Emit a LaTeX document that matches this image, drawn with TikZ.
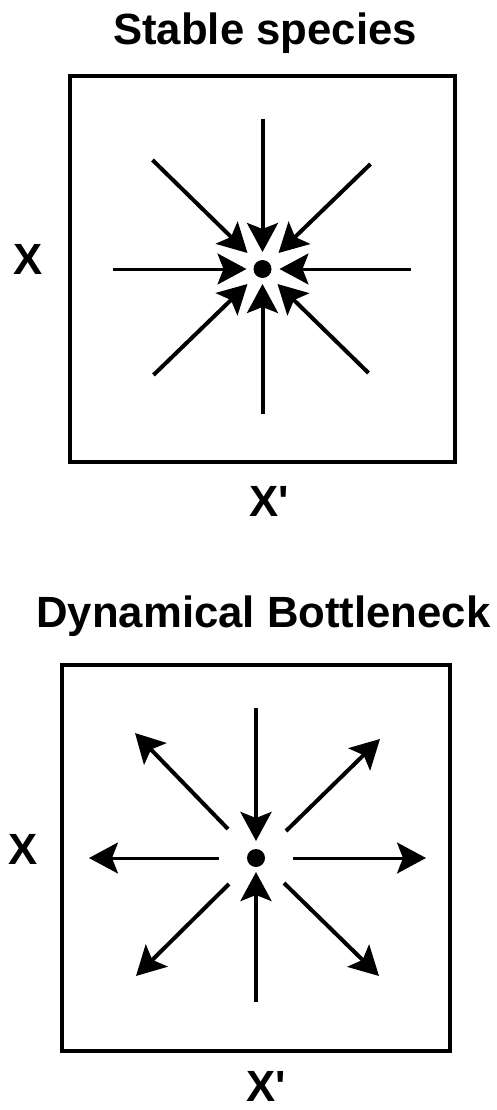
\documentclass[tikz,border=0pt]{standalone}
\usepackage{fontspec}
\setmainfont{Liberation Sans}[Ligatures=TeXOff]
\usetikzlibrary{arrows.meta}
\begin{document}
\begin{tikzpicture}[x=1pt,y=-1pt,
  lbl/.style={font=\fontsize{43.7}{50}\selectfont\bfseries, inner sep=0pt},
  frame/.style={draw, line width=4pt, inner sep=0pt},
  flow/.style={line width=4pt, -{Stealth[length=29pt,width=31pt,inset=6pt]}},
  thinflow/.style={flow, line width=3pt},
  dotst/.style={circle, fill=black, minimum size=18pt, inner sep=0pt}]
\useasboundingbox (0,0) rectangle (497,1110);

% ---------- top panel ----------
\node[lbl, anchor=base] (t1) at (265,45) {Stable species};
\node[frame, minimum width=385pt, minimum height=386pt] (box1) at (262.5,269) {};
\node[lbl, anchor=base west] (xa) at (13,274) {X};
\node[lbl, anchor=base west] (xb) at (249,516) {X'};
\node[dotst] (c1) at (262.5,269) {};
\begin{scope}[shift={(262.5,269)}]
  \coordinate (a1) at (0,-150);   \coordinate (b1) at (0,-17);
  \coordinate (a2) at (0,145);    \coordinate (b2) at (0,15);
  \coordinate (a3) at (-150,0);   \coordinate (b3) at (-16,0);
  \coordinate (a4) at (148,0);    \coordinate (b4) at (17,0);
  \coordinate (a5) at (-110,-109);\coordinate (b5) at (-15,-16);
  \coordinate (a6) at (108,-105); \coordinate (b6) at (16,-16);
  \coordinate (a7) at (-109,106); \coordinate (b7) at (-15,15);
  \coordinate (a8) at (106,104);  \coordinate (b8) at (15,15);
\end{scope}
\draw[flow] (a1) -- (b1);
\draw[flow] (a2) -- (b2);
\draw[thinflow] (a3) -- (b3);
\draw[thinflow] (a4) -- (b4);
\draw[flow] (a5) -- (b5);
\draw[flow] (a6) -- (b6);
\draw[flow] (a7) -- (b7);
\draw[flow] (a8) -- (b8);

% ---------- bottom panel ----------
\node[lbl, anchor=base] (t2) at (263.5,627) {Dynamical Bottleneck};
\node[frame, minimum width=388pt, minimum height=386pt] (box2) at (256,858) {};
\node[lbl, anchor=base west] (ya) at (8,864) {X};
\node[lbl, anchor=base west] (yb) at (246,1101) {X'};
\node[dotst] (c2) at (256,858) {};
\begin{scope}[shift={(256,858)}]
  \coordinate (p1) at (0,-150);   \coordinate (q1) at (0,-17);
  \coordinate (p2) at (0,144);    \coordinate (q2) at (0,14);
  \coordinate (p3) at (-37,0);    \coordinate (q3) at (-167,0);
  \coordinate (p4) at (37,0);     \coordinate (q4) at (170,0);
  \coordinate (p5) at (-28,-29);  \coordinate (q5) at (-121,-125);
  \coordinate (p6) at (30,-27);   \coordinate (q6) at (124,-119);
  \coordinate (p7) at (-27,26);   \coordinate (q7) at (-120,118);
  \coordinate (p8) at (28,25);    \coordinate (q8) at (123,118);
\end{scope}
\draw[flow] (p1) -- (q1);
\draw[flow] (p2) -- (q2);
\draw[thinflow] (p3) -- (q3);
\draw[thinflow] (p4) -- (q4);
\draw[flow] (p5) -- (q5);
\draw[flow] (p6) -- (q6);
\draw[flow] (p7) -- (q7);
\draw[flow] (p8) -- (q8);
\end{tikzpicture}
\end{document}
